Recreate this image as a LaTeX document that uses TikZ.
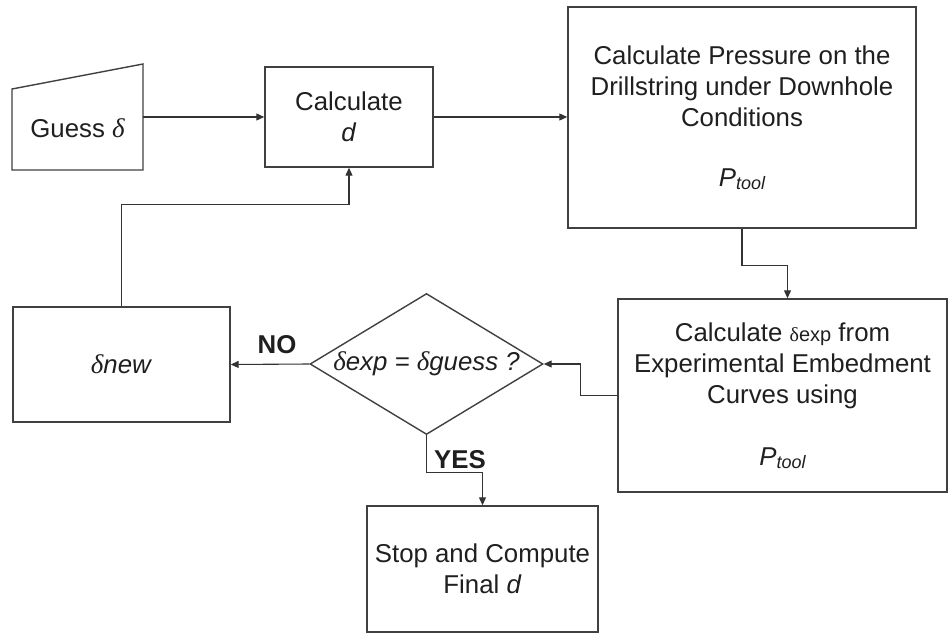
\documentclass[tikz,border=0pt]{standalone}
\usepackage{fontspec}
\setmainfont{Liberation Sans}
\newfontfamily\grk{Liberation Serif}
\usetikzlibrary{arrows.meta,shapes.geometric}
\newcommand{\Ptool}{\textit{P}\raisebox{-3pt}{\fontsize{18}{18}\selectfont\itshape tool}}
\newcommand{\dlt}{{\grk\itshape\fontsize{27}{27}\selectfont δ}}
\tikzset{
  txt/.style={font=\fontsize{25.8}{31}\selectfont, text=black!88, align=center, inner sep=0pt},
  box/.style={txt, draw=black!75, line width=1.4pt, rectangle},
  conn/.style={draw=black!80, line width=1.1pt, -{Triangle[length=8pt,width=7pt]}},
  lbl/.style={txt, font=\fontsize{25.8}{31}\selectfont\bfseries}
}
\begin{document}
\begin{tikzpicture}[x=1pt,y=-1pt]
\useasboundingbox (0,0) rectangle (949,634);
% guess (manual input shape)
\node[inner sep=0pt, minimum width=131pt, minimum height=106pt] (guess) at (77.5,117) {};
\draw[draw=black!75, line width=1.4pt] (12,89) -- (143,64) -- (143,170) -- (12,170) -- cycle;
\node[txt] (guesstxt) at (77.5,128) {Guess \dlt};
% boxes
\node[box, minimum width=168pt, minimum height=100pt] (calc) at (349,117) {Calculate\\\textit{d}};
\node[box, minimum width=348pt, minimum height=221pt] (press) at (742,117.5)
  {Calculate Pressure on the\\Drillstring under Downhole\\Conditions\\[29pt]\Ptool};
\node[box, minimum width=329pt, minimum height=193pt] (exp) at (782.5,395.5)
  {Calculate {\fontsize{20}{20}\selectfont{\grk δ}exp} from\\Experimental Embedment\\Curves using\\[31pt]\Ptool};
\node[txt, draw=black!75, line width=1.4pt, diamond, aspect=1.65, minimum width=233pt, minimum height=141pt] (dec) at (426.5,364)
  {\itshape\dlt exp = \dlt guess ?};
\node[box, minimum width=217pt, minimum height=115pt] (new) at (121.5,364.5) {\dlt\textit{new}};
\node[box, minimum width=231pt, minimum height=126pt] (stop) at (482.5,569) {Stop and Compute\\Final \textit{d}};
% connectors
\draw[conn] (guess.east) -- (calc.west);
\draw[conn] (calc.east) -- (calc.east -| press.west);
\draw[conn] (press.south) -- ++(0,37) -| ([xshift=5pt]exp.north);
\draw[conn] (exp.west) -- ++(-37,0) |- (dec.east);
\draw[conn] (dec.west) -- (new.east);
\draw[conn] (dec.south) -- ++(0,37) -| (stop.north);
\draw[conn] (new.north) -- ++(0,-102) -| (calc.south);
% labels
\node[lbl] (no) at (277,345) {NO};
\node[lbl] (yes) at (460,460) {YES};
\end{tikzpicture}
\end{document}
